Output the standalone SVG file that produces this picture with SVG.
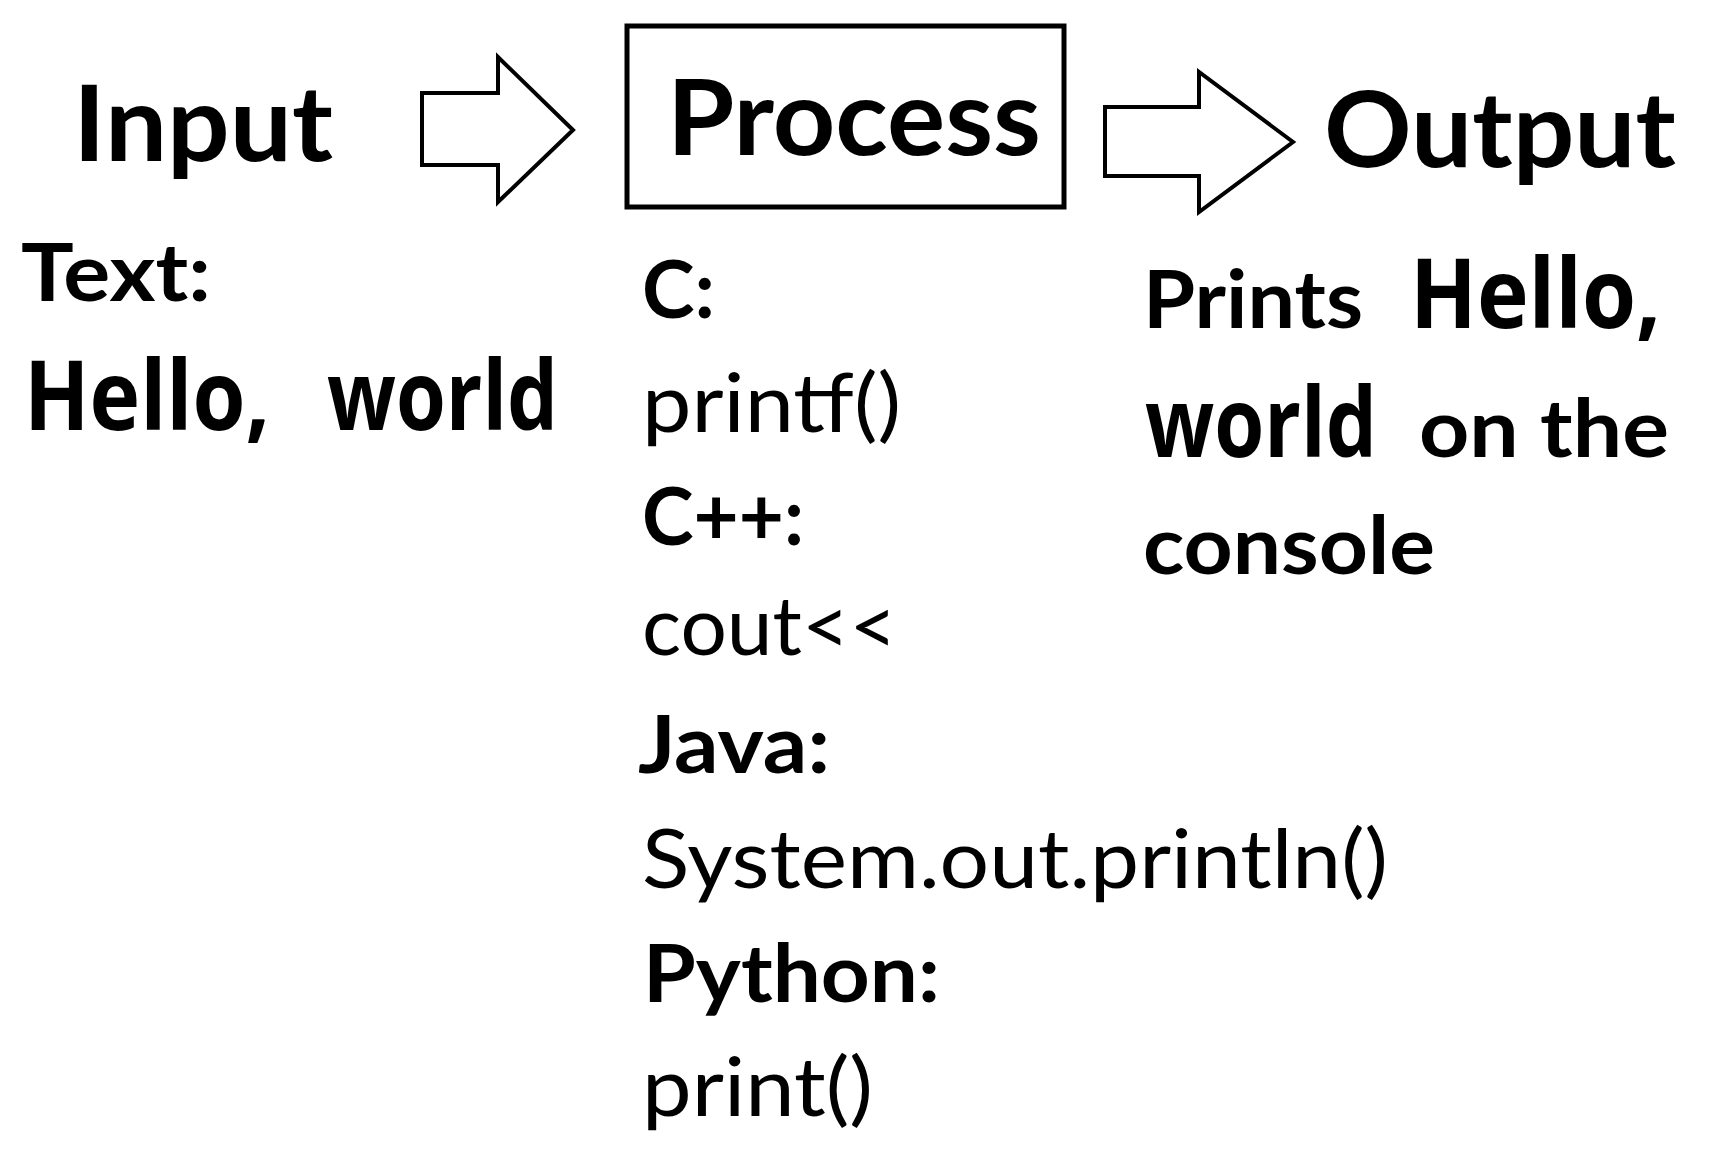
<svg xmlns="http://www.w3.org/2000/svg" width="1713" height="1163" viewBox="0 0 1713 1163">
  <style>
    .title { font-family: Lato, "Liberation Sans", sans-serif; font-weight: 700; font-size: 105px; fill: #000; }
    .bold { font-family: Lato, "Liberation Sans", sans-serif; font-weight: 700; font-size: 81px; fill: #000; }
    .reg { font-family: Lato, "Liberation Sans", sans-serif; font-weight: 400; font-size: 81px; fill: #000; }
    .comic { font-family: "Open Sans", "Liberation Sans", sans-serif; font-weight: 700; font-size: 96px; fill: #000; }
    .arrow { fill: #fff; stroke: #000; stroke-width: 4; stroke-linejoin: miter; }
    .box { fill: #fff; stroke: #000; stroke-width: 5; }
  </style>
  <rect x="0" y="0" width="1713" height="1163" fill="#fff"/>

  <g id="connectors">
    <polygon id="arrow-input-process" class="arrow" points="422,93 498,93 498,57 573,130 498,202 498,165 422,165"/>
    <polygon id="arrow-process-output" class="arrow" points="1105,107 1199,107 1199,72 1293,142 1199,212 1199,176 1105,176"/>
  </g>

  <g id="input">
    <text class="title" x="73" y="161" textLength="260" lengthAdjust="spacingAndGlyphs">Input</text>
  </g>

  <g id="process">
    <rect class="box" x="627" y="26" width="437" height="181"/>
    <text class="title" x="667" y="155" textLength="374" lengthAdjust="spacingAndGlyphs">Process</text>
  </g>

  <g id="output">
    <text class="title" x="1324" y="167" textLength="352" lengthAdjust="spacingAndGlyphs">Output</text>
  </g>

  <g id="input-detail">
    <text class="bold" x="21" y="301" textLength="190" lengthAdjust="spacingAndGlyphs">Text:</text>
    <text class="comic" x="24" y="430" textLength="246" lengthAdjust="spacingAndGlyphs">Hello,</text>
    <text class="comic" x="327" y="430" textLength="231" lengthAdjust="spacingAndGlyphs">world</text>
  </g>

  <g id="process-detail">
    <text class="bold" x="642" y="318" textLength="73" lengthAdjust="spacingAndGlyphs">C:</text>
    <text class="reg" x="642" y="432" textLength="259" lengthAdjust="spacingAndGlyphs">printf()</text>
    <text class="bold" x="642" y="545" textLength="162" lengthAdjust="spacingAndGlyphs">C++:</text>
    <text class="reg" x="642" y="655" textLength="255" lengthAdjust="spacingAndGlyphs">cout&lt;&lt;</text>
    <text class="bold" x="638" y="773" textLength="192" lengthAdjust="spacingAndGlyphs">Java:</text>
    <text class="reg" x="642" y="888" textLength="746" lengthAdjust="spacingAndGlyphs">System.out.println()</text>
    <text class="bold" x="643" y="1002" textLength="297" lengthAdjust="spacingAndGlyphs">Python:</text>
    <text class="reg" x="642" y="1116" textLength="231" lengthAdjust="spacingAndGlyphs">print()</text>
  </g>

  <g id="output-detail">
    <text class="bold" x="1143" y="328" textLength="220" lengthAdjust="spacingAndGlyphs">Prints</text>
    <text class="comic" x="1410" y="328" textLength="251" lengthAdjust="spacingAndGlyphs">Hello,</text>
    <text class="comic" x="1145" y="457" textLength="232" lengthAdjust="spacingAndGlyphs">world</text>
    <text class="bold" x="1419" y="457" textLength="250" lengthAdjust="spacingAndGlyphs">on the</text>
    <text class="bold" x="1143" y="574" textLength="292" lengthAdjust="spacingAndGlyphs">console</text>
  </g>
</svg>
